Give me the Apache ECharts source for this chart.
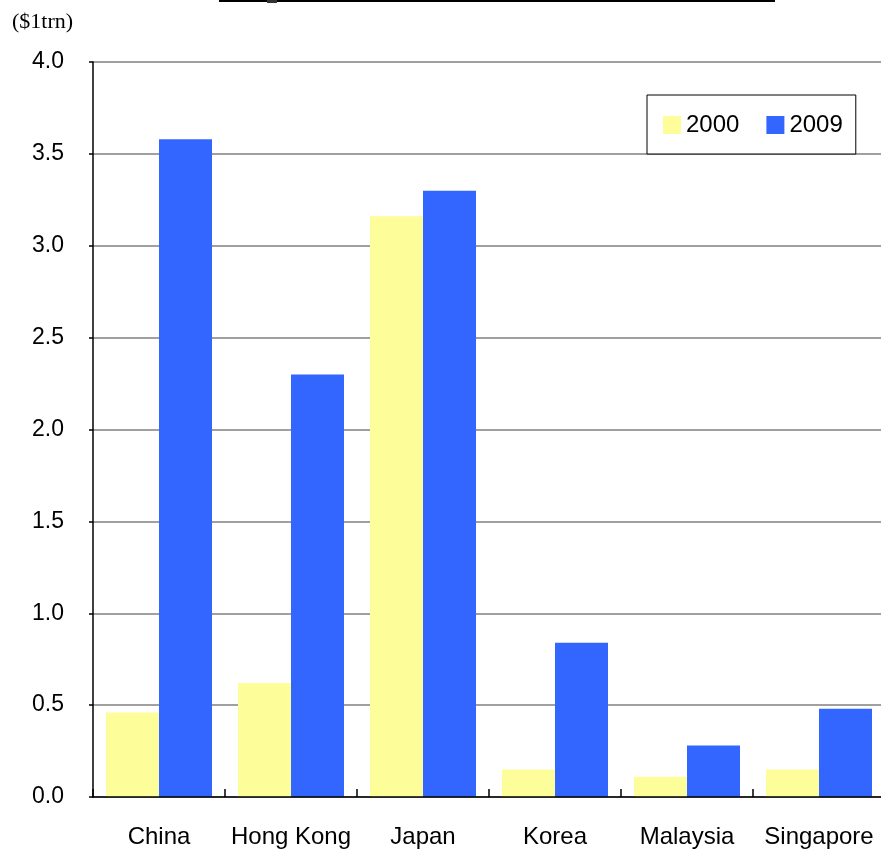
<!DOCTYPE html>
<html>
<head>
<meta charset="utf-8">
<script src="https://cdn.jsdelivr.net/npm/echarts@6/dist/echarts.min.js"></script>
<style>
html,body{margin:0;padding:0;background:#fff;}
#chart{width:881px;height:849px;}
</style>
</head>
<body>
<div id="chart"></div>
<script>
const categories = ['China', 'Hong Kong', 'Japan', 'Korea', 'Malaysia', 'Singapore'];
const values2000 = [0.46, 0.62, 3.16, 0.15, 0.11, 0.15];
const values2009 = [3.58, 2.30, 3.30, 0.84, 0.28, 0.48];
const seriesNames = ['2000', '2009'];
const unitLabel = '($1trn)';

const chart = echarts.init(document.getElementById('chart'), null, {renderer: 'canvas'});
const font = '"Liberation Sans", Arial, sans-serif';
chart.setOption({
  animation: false,
  backgroundColor: '#ffffff',
  graphic: [
    {type: 'rect', shape: {x: 219, y: 0, width: 556, height: 2}, style: {fill: '#000'}},
    {type: 'rect', shape: {x: 267, y: 0, width: 10, height: 3}, style: {fill: '#333'}},
    {type: 'text', left: 12, top: 11, style: {text: unitLabel, font: '22px "Liberation Serif", "Times New Roman", serif', fill: '#000'}}
  ],
  grid: {left: 93, width: 792, top: 62, bottom: 52, containLabel: false, outerBoundsMode: 'none'},
  legend: {
    data: seriesNames,
    left: 647, top: 95,
    orient: 'horizontal',
    icon: 'rect',
    itemWidth: 18, itemHeight: 18,
    itemGap: 27,
    padding: [18, 13, 17, 16],
    borderColor: '#000', borderWidth: 1,
    backgroundColor: '#fff',
    textStyle: {fontSize: 24, color: '#000', fontFamily: font}
  },
  xAxis: {
    type: 'category',
    data: categories,
    axisLine: {show: true, lineStyle: {color: '#000', width: 1.5}},
    axisTick: {show: true, inside: true, length: 8, alignWithLabel: false, lineStyle: {color: '#000', width: 1.5}},
    axisLabel: {fontSize: 24, color: '#000', fontFamily: font, margin: 28, interval: 0},
    z: 5
  },
  yAxis: {
    type: 'value',
    min: 0, max: 4, interval: 0.5,
    axisLine: {show: true, lineStyle: {color: '#000', width: 1.5}},
    axisTick: {show: true, length: 4, lineStyle: {color: '#000', width: 1.5}},
    axisLabel: {fontSize: 23, color: '#000', fontFamily: font, margin: 29, formatter: v => v.toFixed(1)},
    splitLine: {show: true, lineStyle: {color: '#808080', width: 1.5}}
  },
  series: [
    {name: seriesNames[0], type: 'bar', data: values2000, barWidth: 53, barGap: '0%', itemStyle: {color: '#FDFD99'}},
    {name: seriesNames[1], type: 'bar', data: values2009, barWidth: 53, barGap: '0%', itemStyle: {color: '#3366FF'}}
  ]
});
</script>
</body>
</html>
